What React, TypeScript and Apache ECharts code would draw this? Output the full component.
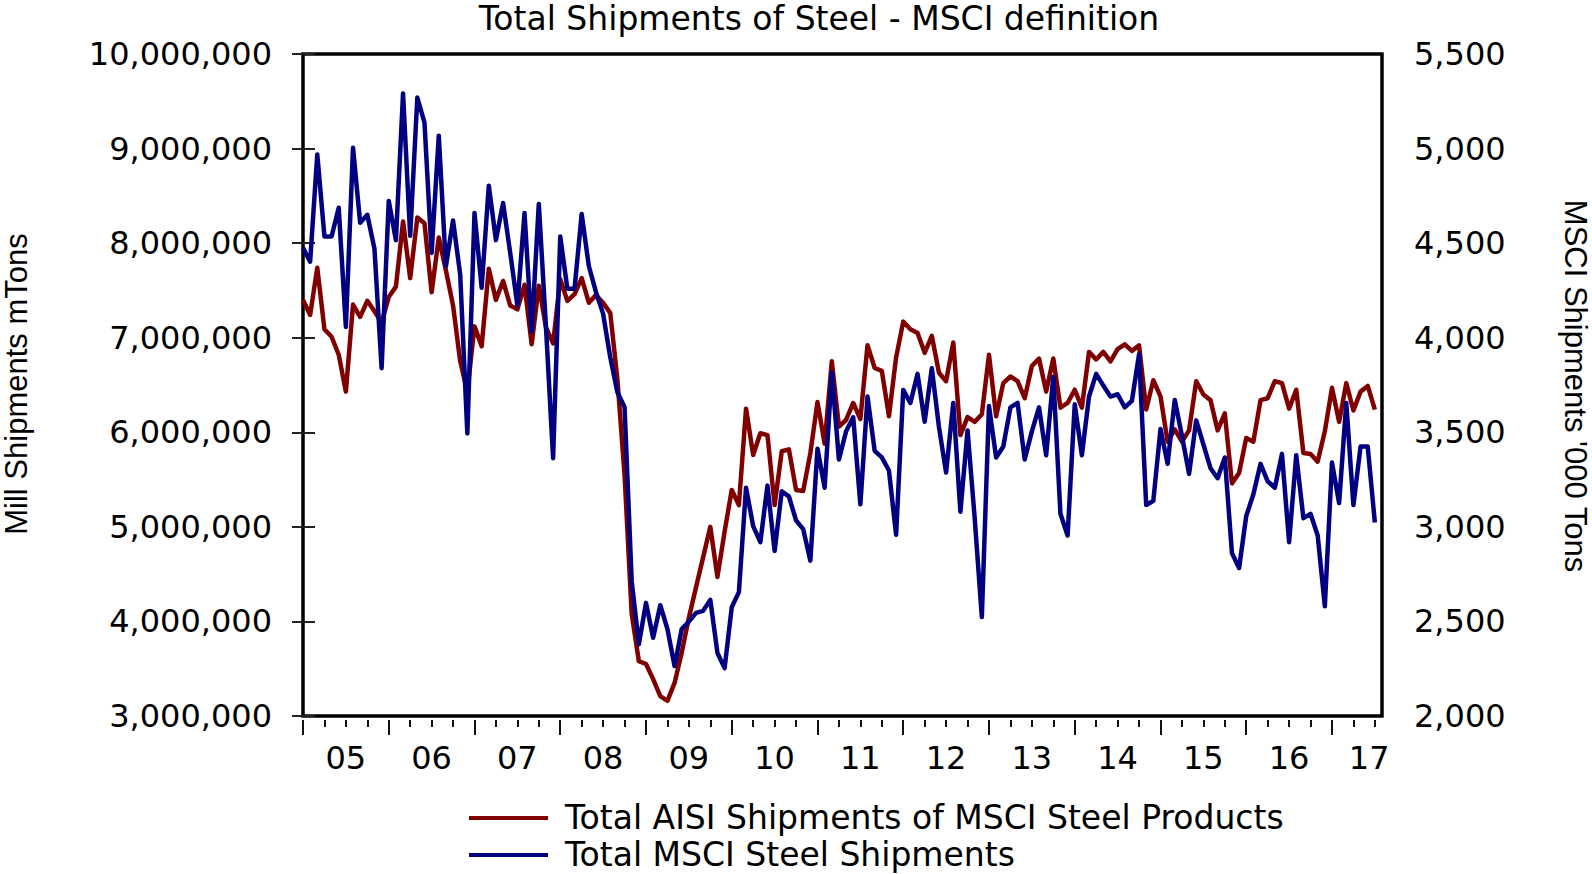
import React, { useEffect, useRef } from "react";
import * as echarts from "echarts";

// ---------- DATA ----------
const TITLE = "Total Shipments of Steel - MSCI definition";
const LEFT_AXIS_TITLE = "Mill Shipments mTons";
const RIGHT_AXIS_TITLE = "MSCI Shipments '000 Tons";
const SERIES_NAMES = [
  "Total AISI Shipments of MSCI Steel Products",
  "Total MSCI Steel Shipments",
];
const YEAR_LABELS = ["05", "06", "07", "08", "09", "10", "11", "12", "13", "14", "15", "16", "17"];
const LEFT_TICKS = [3000000, 4000000, 5000000, 6000000, 7000000, 8000000, 9000000, 10000000];
const RIGHT_TICKS = [2000, 2500, 3000, 3500, 4000, 4500, 5000, 5500];

// Monthly observations, Jan 2005 .. Jul 2017
const FIRST_YEAR = 2005;
const MONTH_COUNT = 151;
const months: string[] = Array.from({ length: MONTH_COUNT }, (_, i) => {
  const y = FIRST_YEAR + Math.floor(i / 12);
  const m = (i % 12) + 1;
  return `${y}-${m < 10 ? "0" + m : m}`;
});

// Total AISI Shipments of MSCI Steel Products (left axis, tons)
const aisiShipments = [
  7400000, 7240000, 7740000, 7090000, 7010000, 6820000, 6430000, 7350000, 7220000, 7390000, 7280000, 7160000,
  7430000, 7540000, 8230000, 7630000, 8270000, 8210000, 7480000, 8060000, 7710000, 7340000, 6750000, 6430000,
  7120000, 6910000, 7730000, 7400000, 7600000, 7340000, 7300000, 7560000, 6930000, 7550000, 7110000, 6940000,
  7620000, 7390000, 7460000, 7630000, 7370000, 7450000, 7370000, 7260000, 6560000, 5550000, 4080000, 3580000,
  3550000, 3390000, 3210000, 3160000, 3350000, 3670000, 4040000, 4360000, 4680000, 5000000, 4470000, 4950000,
  5390000, 5230000, 6250000, 5760000, 5990000, 5970000, 5230000, 5800000, 5820000, 5390000, 5380000, 5780000,
  6320000, 5880000, 6750000, 6060000, 6130000, 6310000, 6140000, 6920000, 6680000, 6650000, 6170000, 6790000,
  7170000, 7090000, 7050000, 6840000, 7020000, 6630000, 6540000, 6950000, 5970000, 6160000, 6110000, 6190000,
  6820000, 6170000, 6520000, 6590000, 6540000, 6360000, 6700000, 6780000, 6430000, 6780000, 6260000, 6310000,
  6450000, 6260000, 6850000, 6770000, 6850000, 6750000, 6880000, 6930000, 6860000, 6920000, 6240000, 6550000,
  6380000, 5900000, 6030000, 5900000, 6020000, 6540000, 6400000, 6340000, 6020000, 6200000, 5460000, 5570000,
  5940000, 5900000, 6340000, 6360000, 6540000, 6520000, 6250000, 6450000, 5780000, 5770000, 5690000, 6010000,
  6470000, 6110000, 6520000, 6230000, 6430000, 6490000, 6240000,
];

// Total MSCI Steel Shipments (right axis, '000 tons)
const msciShipments = [
  4475, 4402, 4969, 4535, 4535, 4687, 4057, 5004, 4608, 4650, 4470, 3839,
  4723, 4516, 5291, 4539, 5270, 5137, 4448, 5068, 4379, 4620, 4333, 3494,
  4659, 4264, 4804, 4516, 4712, 4448, 4172, 4659, 4034, 4707, 4057, 3363,
  4535, 4259, 4259, 4654, 4379, 4241, 4126, 3896, 3712, 3632, 2713, 2379,
  2598, 2414, 2586, 2460, 2264, 2460, 2499, 2545, 2556, 2614, 2333, 2253,
  2575, 2655, 3207, 3004, 2919, 3218, 2873, 3188, 3161, 3034, 2988, 2821,
  3413, 3207, 3816, 3356, 3505, 3579, 3119, 3689, 3402, 3367, 3298, 2958,
  3724, 3655, 3809, 3556, 3839, 3528, 3287, 3655, 3080, 3510, 3046, 2523,
  3639, 3367, 3425, 3632, 3655, 3356, 3505, 3632, 3379, 3793, 3069, 2954,
  3648, 3379, 3689, 3809, 3747, 3689, 3701, 3632, 3666, 3912, 3115, 3138,
  3517, 3333, 3671, 3482, 3280, 3563, 3436, 3310, 3257, 3367, 2862, 2782,
  3057, 3172, 3333, 3241, 3207, 3386, 2919, 3379, 3046, 3069, 2954, 2580,
  3340, 3126, 3655, 3115, 3425, 3425, 3023,
];

// ---------- CHART ----------
const RED = "#800000";
const BLUE = "#000080";
const TICK_FONT = "DejaVu Sans";
const X_MAX = months.length; // axis runs a little past the last observation

const fmt = (v: number) => Math.round(v).toLocaleString("en-US");

export default function App() {
  const ref = useRef<HTMLDivElement>(null);

  useEffect(() => {
    if (!ref.current) return;
    const chart = echarts.init(ref.current, undefined, { renderer: "svg" });

    const quarterTicks: number[] = [];
    for (let i = 0; i < months.length; i += 3) quarterTicks.push(i);
    const yearTicks = YEAR_LABELS.map((_, k) => k * 12);
    const yearLabelPos = YEAR_LABELS.map((_, k) => Math.min(k * 12 + 6, X_MAX - 1.8));

    const gridLeft = 303;
    const gridRight = 210;
    const gridTop = 54;
    const gridBottom = 158;

    const legendX = 469;
    const legendY = [817, 854];

    const option: any = {
      animation: false,
      backgroundColor: "#fff",
      grid: {
        left: gridLeft,
        right: gridRight,
        top: gridTop,
        bottom: gridBottom,
        show: true,
        borderColor: "#000",
        borderWidth: 3.5,
        backgroundColor: "transparent",
        containLabel: false,
      },
      xAxis: [
        {
          type: "value",
          min: 0,
          max: X_MAX,
          axisLine: { show: false },
          axisTick: { show: false },
          axisLabel: { show: false },
          splitLine: { show: false },
        },
        {
          type: "value",
          min: 0,
          max: X_MAX,
          position: "bottom",
          offset: 4,
          axisLine: { show: false },
          axisTick: {
            show: true,
            length: 7,
            customValues: quarterTicks,
            lineStyle: { color: "#111", width: 2 },
          },
          axisLabel: { show: false },
          splitLine: { show: false },
        },
        {
          type: "value",
          min: 0,
          max: X_MAX,
          position: "bottom",
          offset: 4,
          axisLine: { show: false },
          axisTick: {
            show: true,
            length: 15,
            customValues: yearTicks,
            lineStyle: { color: "#111", width: 2 },
          },
          axisLabel: {
            show: true,
            customValues: yearLabelPos,
            margin: 22,
            fontSize: 32,
            lineHeight: 32,
            fontFamily: TICK_FONT,
            color: "#000",
            formatter: (v: number) => YEAR_LABELS[Math.min(YEAR_LABELS.length - 1, Math.floor(v / 12))],
          },
          splitLine: { show: false },
        },
      ],
      yAxis: [
        {
          type: "value",
          position: "left",
          min: LEFT_TICKS[0],
          max: LEFT_TICKS[LEFT_TICKS.length - 1],
          interval: LEFT_TICKS[1] - LEFT_TICKS[0],
          axisLine: { show: false },
          axisTick: { show: true, length: 11, lineStyle: { color: "#222", width: 2 } },
          axisLabel: {
            margin: 31,
            fontSize: 32,
            fontFamily: TICK_FONT,
            color: "#000",
            formatter: (v: number) => fmt(v),
          },
          splitLine: { show: false },
        },
        {
          type: "value",
          position: "right",
          min: RIGHT_TICKS[0],
          max: RIGHT_TICKS[RIGHT_TICKS.length - 1],
          interval: RIGHT_TICKS[1] - RIGHT_TICKS[0],
          axisLine: { show: false },
          axisTick: { show: true, length: 12, lineStyle: { color: "#222", width: 2 } },
          axisLabel: {
            margin: 32,
            fontSize: 32,
            fontFamily: TICK_FONT,
            color: "#000",
            formatter: (v: number) => fmt(v),
          },
          splitLine: { show: false },
        },
      ],
      series: [
        {
          name: SERIES_NAMES[0],
          type: "line",
          xAxisIndex: 0,
          yAxisIndex: 0,
          data: aisiShipments.map((v, i) => [i, v]),
          showSymbol: false,
          symbol: "none",
          silent: true,
          lineStyle: { color: RED, width: 4.5, join: "round" },
          itemStyle: { color: RED },
          z: 2,
        },
        {
          name: SERIES_NAMES[1],
          type: "line",
          xAxisIndex: 0,
          yAxisIndex: 1,
          data: msciShipments.map((v, i) => [i, v]),
          showSymbol: false,
          symbol: "none",
          silent: true,
          lineStyle: { color: BLUE, width: 4.5, join: "round" },
          itemStyle: { color: BLUE },
          z: 3,
        },
      ],
      graphic: [
        {
          type: "text",
          x: 819,
          y: 18,
          style: {
            text: TITLE,
            fill: "#000",
            fontSize: 33,
            fontFamily: "DejaVu Sans",
            align: "center",
            verticalAlign: "middle",
          },
        },
        {
          type: "text",
          x: 16,
          y: 384,
          rotation: Math.PI / 2,
          style: {
            text: LEFT_AXIS_TITLE,
            fill: "#000",
            fontSize: 31,
            fontFamily: "Liberation Sans",
            align: "center",
            verticalAlign: "middle",
          },
        },
        {
          type: "text",
          x: 1575,
          y: 386,
          rotation: -Math.PI / 2,
          style: {
            text: RIGHT_AXIS_TITLE,
            fill: "#000",
            fontSize: 31,
            fontFamily: "Liberation Sans",
            align: "center",
            verticalAlign: "middle",
          },
        },
        ...SERIES_NAMES.flatMap((name, k) => [
          {
            type: "line",
            shape: { x1: legendX, y1: legendY[k] + 1, x2: legendX + 79, y2: legendY[k] + 1 },
            style: { stroke: k === 0 ? RED : BLUE, lineWidth: 4 },
          },
          {
            type: "text",
            x: legendX + 96,
            y: legendY[k],
            style: {
              text: name,
              fill: "#000",
              fontSize: 33,
              lineHeight: 33,
              fontFamily: "DejaVu Sans",
              align: "left",
              verticalAlign: "middle",
            },
          },
        ]),
      ],
    };

    chart.setOption(option);
    return () => chart.dispose();
  }, []);

  return (
    <div
      ref={ref}
      style={{ position: "fixed", left: 0, top: 0, width: 1592, height: 874, background: "#fff" }}
    />
  );
}
